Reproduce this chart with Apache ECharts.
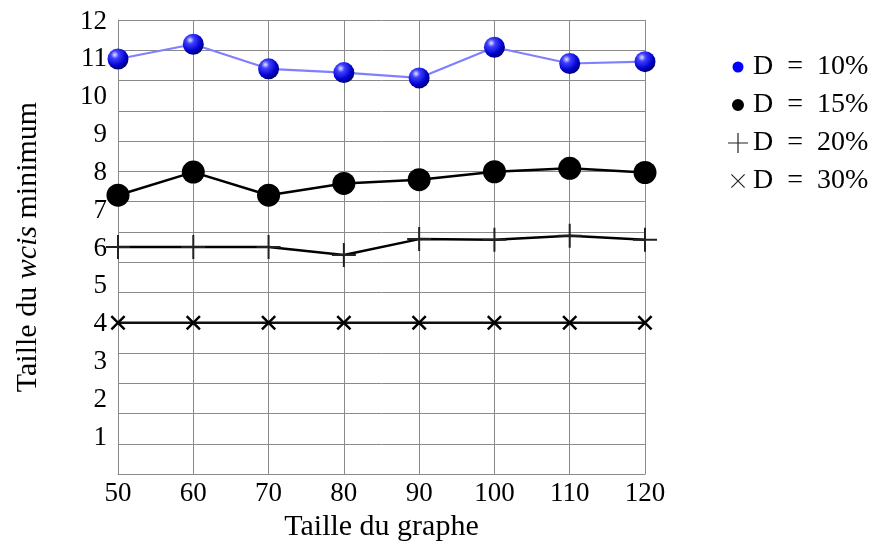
<!DOCTYPE html>
<html>
<head>
<meta charset="utf-8">
<script src="https://cdn.jsdelivr.net/npm/echarts@6/dist/echarts.min.js"></script>
<style>
html,body{margin:0;padding:0;background:#fff;}
#chart{width:876px;height:547px;}
</style>
</head>
<body>
<div id="chart"></div>
<script>
// ---- data ----
const xValues = [50, 60, 70, 80, 90, 100, 110, 120];
const seriesNames = ['D = 10%', 'D = 15%', 'D = 20%', 'D = 30%'];
const d10 = [10.97, 11.36, 10.71, 10.61, 10.47, 11.28, 10.85, 10.90];
const d15 = [7.37, 7.98, 7.37, 7.68, 7.78, 7.99, 8.08, 7.97];
const d20 = [6.0, 6.0, 6.0, 5.79, 6.21, 6.19, 6.30, 6.19];
const d30 = [4, 4, 4, 4, 4, 4, 4, 4];
const yTickLabels = [1, 2, 3, 4, 5, 6, 7, 8, 9, 10, 11, 12];
const xAxisTitle = 'Taille du graphe';
const yAxisTitle = 'Taille du {i|wcis} minimum';

const FONT = '"Liberation Serif", "DejaVu Serif", serif';
const GRID_COLOR = '#8a8a8a';

function pairs(ys) { return xValues.map((x, i) => [x, ys[i]]); }

// symbols
const plusSym = 'path://M11,0 h2 v24 h-2 z M0,11 h24 v2 h-24 z';
const crossSym = 'path://M0,1.4 L1.4,0 L12,10.6 L10.6,12 Z M10.6,0 L12,1.4 L1.4,12 L0,10.6 Z';
// legend icons (20x20 box with invisible corner anchors)
const corners = ' M0,0 L0.01,0.01 M20,20 L19.99,19.99';
const legDot = 'path://M10,4.5 A5.5,5.5 0 1 1 9.99,4.5 Z' + corners;
const legDot2 = 'path://M10,4 A6,6 0 1 1 9.99,4 Z' + corners;
const legPlus = 'path://M9.4,0 h1.2 v20 h-1.2 z M0,9.4 h20 v1.2 h-20 z' + corners;
const legCross = 'path://M3,3.8 L3.8,3 L17,16.2 L16.2,17 Z M16.2,3 L17,3.8 L3.8,17 L3,16.2 Z' + corners;

const sphere = {
  type: 'radial', x: 0.35, y: 0.3, r: 0.75,
  colorStops: [
    { offset: 0, color: '#e6e6ff' },
    { offset: 0.25, color: '#4040ff' },
    { offset: 0.7, color: '#0000d0' },
    { offset: 1, color: '#000060' }
  ]
};

const chart = echarts.init(document.getElementById('chart'), null, { renderer: 'canvas' });
chart.setOption({
  animation: false,
  backgroundColor: '#fff',
  textStyle: { fontFamily: FONT },
  grid: { left: 118, right: 231, top: 20, bottom: 71, containLabel: false },
  legend: {
    orient: 'vertical',
    left: 723,
    top: 48,
    itemWidth: 20,
    itemHeight: 20,
    itemGap: 10,
    formatter: n => n.replace(' = ', '\u2002=\u2002'),
    textStyle: { fontFamily: FONT, fontSize: 28, color: '#000' },
    data: [
      { name: seriesNames[0], icon: legDot, itemStyle: { color: '#0000ff' } },
      { name: seriesNames[1], icon: legDot2, itemStyle: { color: '#000' } },
      { name: seriesNames[2], icon: legPlus, itemStyle: { color: '#222' } },
      { name: seriesNames[3], icon: legCross, itemStyle: { color: '#222' } }
    ]
  },
  xAxis: {
    type: 'value', min: 50, max: 120, interval: 10,
    name: xAxisTitle, nameLocation: 'middle', nameGap: 37,
    nameTextStyle: { fontFamily: FONT, fontSize: 30, color: '#000' },
    axisLine: { show: true, lineStyle: { color: GRID_COLOR, width: 1 } },
    axisTick: { show: false },
    axisLabel: { fontFamily: FONT, fontSize: 27, color: '#000', margin: 6 },
    splitLine: { show: true, lineStyle: { color: GRID_COLOR, width: 1 } }
  },
  yAxis: [
    {
      type: 'value', min: 0, max: 12, interval: 0.8,
      position: 'left',
      name: yAxisTitle, nameLocation: 'middle', nameGap: 75, nameRotate: 90,
      nameTextStyle: {
        fontFamily: FONT, fontSize: 30, color: '#000',
        rich: { i: { fontFamily: FONT, fontSize: 30, fontStyle: 'italic', color: '#000' } }
      },
      axisLine: { show: true, lineStyle: { color: GRID_COLOR, width: 1 } },
      axisTick: { show: false },
      axisLabel: { show: false },
      splitLine: { show: true, lineStyle: { color: GRID_COLOR, width: 1 } }
    },
    {
      type: 'value', min: 0, max: 12, interval: 1,
      position: 'left', offset: 0,
      axisLine: { show: false },
      axisTick: { show: false },
      splitLine: { show: false },
      axisLabel: {
        color: '#000', margin: 11,
        formatter: v => (yTickLabels.indexOf(v) >= 0 ? '{a|' + v + '}' : ''),
        rich: { a: { fontFamily: FONT, fontSize: 27, color: '#000', padding: [3, 0, 0, 0] } }
      }
    }
  ],
  series: [
    {
      name: seriesNames[3], type: 'line', yAxisIndex: 0, data: pairs(d30),
      symbol: crossSym, symbolSize: 15, z: 2,
      lineStyle: { color: '#111', width: 2.5 },
      itemStyle: { color: '#000' }
    },
    {
      name: seriesNames[2], type: 'line', yAxisIndex: 0, data: pairs(d20),
      symbol: plusSym, symbolSize: 24, z: 3,
      lineStyle: { color: '#000', width: 2.5 },
      itemStyle: { color: '#222' }
    },
    {
      name: seriesNames[1], type: 'line', yAxisIndex: 0, data: pairs(d15),
      symbol: 'circle', symbolSize: 23, z: 4,
      lineStyle: { color: '#000', width: 2.5 },
      itemStyle: { color: '#000', borderWidth: 0 }
    },
    {
      name: seriesNames[0], type: 'line', yAxisIndex: 0, data: pairs(d10),
      symbol: 'circle', symbolSize: 21, z: 5,
      lineStyle: { color: '#7f7fff', width: 2.2 },
      itemStyle: { color: sphere, borderWidth: 0 }
    }
  ]
});
</script>
</body>
</html>
